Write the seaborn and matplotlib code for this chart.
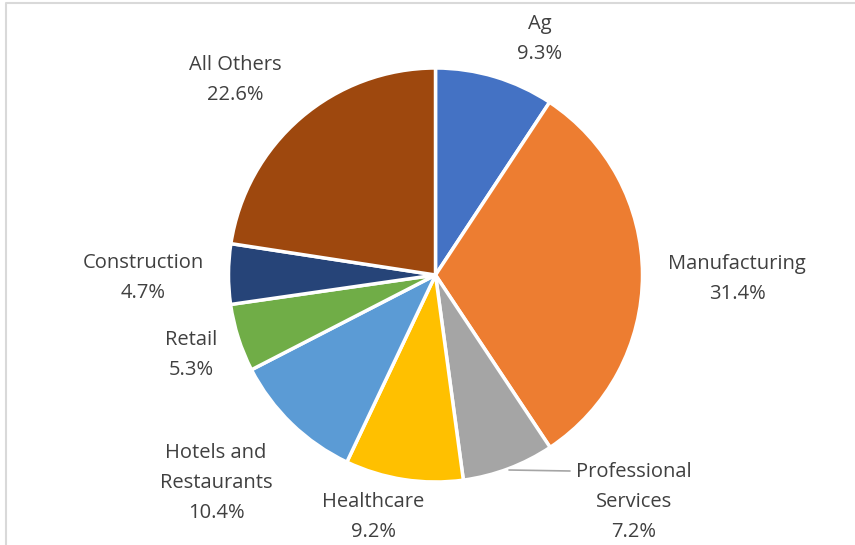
import matplotlib
matplotlib.use("Agg")
import matplotlib.pyplot as plt
import seaborn as sns

sectors = ["Ag", "Manufacturing", "Professional\nServices", "Healthcare",
           "Hotels and\nRestaurants", "Retail", "Construction", "All Others"]
shares = [9.3, 31.4, 7.2, 9.2, 10.4, 5.3, 4.7, 22.6]
colors = ["#4472C4", "#ED7D31", "#A5A5A5", "#FFC000",
          "#5B9BD5", "#70AD47", "#264478", "#9E480E"]

# label centres in pixel coords (x, y from top)
label_pos = [(540, 39), (737, 279), (634, 502), (373, 517),
             (216, 483), (191, 355), (143, 278), (235, 80)]

sns.set_style("white")
plt.rcParams['font.family'] = ['Open Sans', 'DejaVu Sans']

W, H = 855, 545
fig = plt.figure(figsize=(W / 100, H / 100), dpi=100)
ax = fig.add_axes([0, 0, 1, 1])

cx, cy, r = 435.5, 275, 207
ax.pie(shares, colors=colors, startangle=90, counterclock=False,
       center=(cx, H - cy), radius=r, frame=True,
       wedgeprops=dict(edgecolor="white", linewidth=2.5))
ax.set_xlim(0, W)
ax.set_ylim(0, H)
ax.set_aspect("equal")
ax.set_axis_off()

for name, val, (x, y) in zip(sectors, shares, label_pos):
    ax.text(x, H - y, f"{name}\n{val}%", ha="center", va="center",
            fontsize=14.5, color="#404040", linespacing=1.65)

# leader line for Professional Services
ax.plot([509, 570], [H - 470, H - 471], color="#A5A5A5", lw=1.2)

# chart frame (only top/left visible in the crop)
ax.plot([6, 6, W + 5], [-5, H - 3, H - 3], color="#D9D9D9", lw=1.5,
        clip_on=False)

fig.savefig("out.png", dpi=100)
